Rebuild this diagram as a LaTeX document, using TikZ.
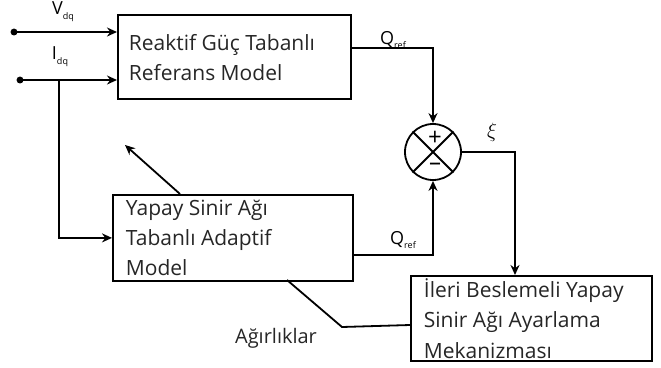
\documentclass[tikz,border=0pt]{standalone}
\usepackage{fontspec}
\setmainfont{Open Sans}
\usetikzlibrary{calc,arrows.meta}
\newcommand{\lowidx}[1]{\raisebox{-0.5ex}{\fontsize{9}{9}\selectfont #1}}

\begin{document}
\begin{tikzpicture}[x=1pt,y=-1pt,line width=1.8pt,
  blk/.style={draw,rectangle,inner sep=0pt},
  txt/.style={anchor=base west,inner sep=0pt,font=\fontsize{21}{24}\selectfont,text=black!85},
  sig/.style={inner sep=0pt,font=\fontsize{18}{20}\selectfont},
  dot/.style={draw,shape=circle,fill=black,inner sep=0pt,minimum size=5pt},
  arr/.style={-{Stealth[length=10pt,width=9pt]}}]
  \useasboundingbox (0,0) rectangle (661,367);
  % blocks
  \node[blk,minimum width=233pt,minimum height=84pt,anchor=north west] (rmodel) at (117,14) {};
  \node[blk,minimum width=240pt,minimum height=86pt,anchor=north west] (annmodel) at (112,194) {};
  \node[blk,minimum width=241pt,minimum height=85pt,anchor=north west] (tuner) at (410,275) {};
  \node[draw,shape=circle,minimum size=56pt,inner sep=0pt] (sum) at (433,152) {};
  \draw (sum.north west) -- (sum.south east) (sum.north east) -- (sum.south west);
  \node[sig,font=\fontsize{24}{24}\selectfont] (plus) at (435,138) {+};
  \node[sig,font=\fontsize{24}{24}\selectfont] (minus) at (435,167) {\textendash};
  % block texts
  \path (128,50) node[txt] (rm1) {Reaktif Güç Tabanlı}
  (128,80) node[txt] (rm2) {Referans Model};
  \path (125,215) node[txt] (am1) {Yapay Sinir Ağı}
  (125,245) node[txt] (am2) {Tabanlı Adaptif}
  (125,275) node[txt] (am3) {Model};
  \path (423,297) node[txt] (tu1) {İleri Beslemeli Yapay}
  (423,327) node[txt] (tu2) {Sinir Ağı Ayarlama}
  (423,358) node[txt] (tu3) {Mekanizması};
  % inputs
  \path (14,32) node[dot] (vin) {} (20,80) node[dot] (iin) {};
  \coordinate (tap) at (59,80);
  \draw[arr] (vin) -- (rmodel.west |- vin);
  \draw[arr] (iin) -- (rmodel.west |- iin);
  \draw[arr] (tap) |- (annmodel.west);
  \draw[arr] (180,194) -- (125,145);
  % outputs to the sum
  \coordinate (qa) at (350,48);
  \coordinate (qb) at (352,255);
  \coordinate (xi) at (515,275);
  \draw[arr] (qa) -| (sum.north);
  \draw[arr] (qb) -| (sum.south);
  \draw[arr] (sum.east) -| (xi);
  % weights
  \coordinate (w1) at (287,280);
  \coordinate (w2) at (342,327);
  \draw (w1) -- (w2) -- (tuner.west |- 0,325);
  % labels
  \node[sig] (vlbl) at (63,12) {V\lowidx{dq}};
  \node[sig] (ilbl) at (60,57) {I\lowidx{dq}};
  \node[sig] (qlbl1) at (393,40) {Q\lowidx{ref}};
  \node[sig] (qlbl2) at (403,240) {Q\lowidx{ref}};
  \node[sig,font=\fontsize{20}{20}\selectfont] (xilbl) at (492,132) {$\xi$};
  \node[txt,anchor=center,font=\fontsize{20}{24}\selectfont] (wlbl) at (276,338) {Ağırlıklar};
\end{tikzpicture}
\end{document}
